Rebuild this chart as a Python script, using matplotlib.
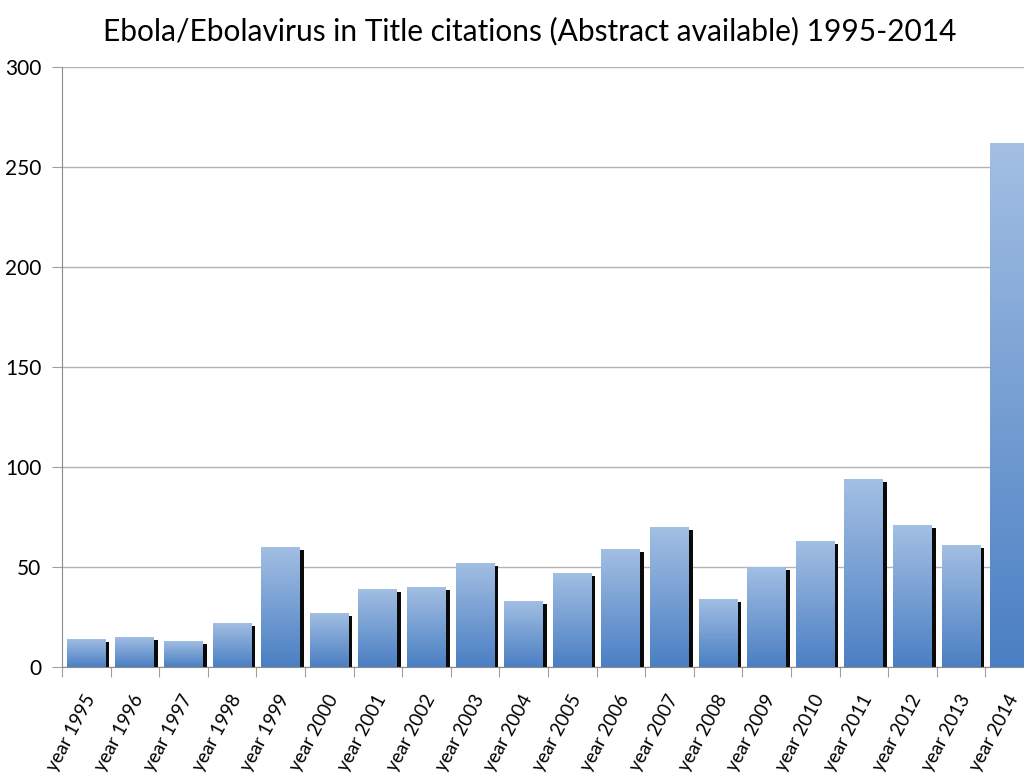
import numpy as np
import matplotlib.pyplot as plt
import matplotlib.transforms as mtransforms
from matplotlib.colors import LinearSegmentedColormap

plt.rcParams['font.family'] = ['Lato', 'DejaVu Sans']

years = ['year %d' % y for y in range(1995, 2015)]
counts = [14, 15, 13, 22, 60, 27, 39, 40, 52, 33,
          47, 59, 70, 34, 50, 63, 94, 71, 61, 262]

fig = plt.figure(figsize=(10.24, 7.75), dpi=100)
# axes run past the right edge of the figure, like the original
ax = fig.add_axes([62 / 1024, 108 / 775, 972 / 1024, 600 / 775])

x = np.arange(len(counts))
bar_w = 0.8
shift = 0.075

# drop shadow behind each bar
ax.bar(x + shift, np.array(counts) - 1.5, width=bar_w, color='#0a0a0a',
       zorder=2)
bars = ax.bar(x, counts, width=bar_w, color='none', zorder=3)

grad = LinearSegmentedColormap.from_list('g', ['#4a7fc3', '#a3bfe3'])
for b in bars:
    x0, w, h = b.get_x(), b.get_width(), b.get_height()
    im = ax.imshow(np.linspace(0, 1, 256).reshape(-1, 1), cmap=grad,
                   origin='lower', aspect='auto',
                   extent=[x0, x0 + w, 0, h], zorder=3)
    im.set_clip_path(b)

ax.set_xlim(-0.5, len(counts) - 0.5)
ax.set_ylim(0, 300)
ax.set_yticks(range(0, 301, 50))
ax.yaxis.grid(True, color='#b3b3b3', linewidth=1)
ax.set_axisbelow(True)

ax.set_xticks(np.arange(-0.5, len(counts), 1))
ax.set_xticklabels([])
ax.set_xticks(x, minor=True)
ax.set_xticklabels(years, minor=True, rotation=62, ha='right', va='top',
                   rotation_mode='anchor', fontsize=13.5)
ax.tick_params(axis='x', which='minor', length=0, pad=18)
ax.tick_params(axis='x', which='major', length=7, color='#a0a0a0')
ax.tick_params(axis='y', length=7, color='#a0a0a0', labelsize=15, pad=8)

# nudge the rotated labels a bit to the left
nudge = mtransforms.ScaledTranslation(-0.03, 0, fig.dpi_scale_trans)
for lab in ax.get_xticklabels(minor=True):
    lab.set_transform(lab.get_transform() + nudge)

for s in ['top', 'right']:
    ax.spines[s].set_visible(False)
for s in ['left', 'bottom']:
    ax.spines[s].set_color('#8c8c8c')

fig.text(0.517, 0.978, 'Ebola/Ebolavirus in Title citations (Abstract available) 1995-2014',
         ha='center', va='top', fontsize=21.5)

fig.savefig('out.png', dpi=100)
